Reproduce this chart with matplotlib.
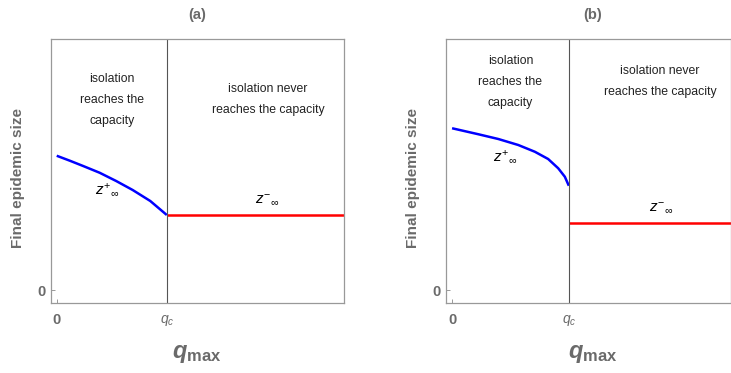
import matplotlib
matplotlib.use("Agg")
import matplotlib.pyplot as plt

plt.rcParams['font.family'] = ['Liberation Sans', 'DejaVu Sans']
plt.rcParams['mathtext.fontset'] = 'custom'
plt.rcParams['mathtext.rm'] = 'Liberation Sans'
plt.rcParams['mathtext.it'] = 'Liberation Sans:italic'
plt.rcParams['mathtext.bf'] = 'Liberation Sans:bold'
plt.rcParams['mathtext.sf'] = 'Liberation Sans:italic:bold'

# panel (a): final size above q_c (blue) and below (red)
qa_plus = [0, 0.12, 0.24, 0.39, 0.54, 0.69, 0.85, 1.0]
za_plus = [0.537, 0.517, 0.496, 0.469, 0.436, 0.40, 0.356, 0.30]
za_minus = 0.30

# panel (b)
qb_plus = [0, 0.225, 0.396, 0.567, 0.709, 0.823, 0.909, 0.966, 1.0]
zb_plus = [0.647, 0.623, 0.604, 0.58, 0.553, 0.524, 0.487, 0.453, 0.417]
zb_minus = 0.268

q_c = 1.0
GRAY = '#6a6a6a'

fig = plt.figure(figsize=(7.31, 3.73), dpi=100)


def panel(rect, xmax, q, zp, zm, txt_y, right_x, zp_pos, zm_pos, title, cx, ylab_x):
	ax = fig.add_axes(rect)
	ax.plot(q, zp, color='#0000ff', lw=1.8, solid_capstyle='butt')
	ax.plot([q_c, xmax], [zm, zm], color='#ff0000', lw=1.8, solid_capstyle='butt')
	ax.axvline(q_c, color='#555555', lw=0.8)
	ax.set_xlim(-0.052, xmax)
	ax.set_ylim(-0.052, 1.004)
	for s in ax.spines.values():
		s.set_color('#999999')
		s.set_linewidth(0.9)
	ax.set_xticks([0, q_c], ['0', '$q_c$'])
	ax.set_yticks([0], ['0'])
	ax.tick_params(direction='in', length=3, width=0.7, color='#999999',
				   labelcolor=GRAY)
	ax.tick_params(axis='x', pad=7)
	ax.tick_params(axis='y', pad=4)
	lx = ax.get_xticklabels()
	lx[0].set_fontsize(10.5)
	lx[0].set_fontweight('bold')
	lx[1].set_fontsize(10)
	for t in ax.get_yticklabels():
		t.set_fontsize(10.5)
		t.set_fontweight('bold')

	ax.text(0.5 * q_c, txt_y, 'isolation\nreaches the\ncapacity', ha='center',
			va='center', fontsize=8.8, linespacing=2.0, color='#222222')
	ax.text(right_x, txt_y, 'isolation never\nreaches the capacity',
			ha='center', va='center', fontsize=8.8, linespacing=2.0, color='#222222')
	ax.text(*zp_pos, r'$z^{+}{}_{\infty}$', ha='center', va='center', fontsize=11)
	ax.text(*zm_pos, r'$z^{-}{}_{\infty}$', ha='center', va='center', fontsize=11)

	fig.text(cx, 1 - 15 / 373, title, ha='center', va='center', fontsize=10.5,
			 fontweight='bold', color=GRAY)
	fig.text(cx, 1 - 354 / 373, r'$\mathsf{q}_{\mathbf{max}}$', ha='center',
			 va='center', fontsize=17, color=GRAY)
	fig.text(ylab_x, (373 - 178) / 373, 'Final epidemic size', rotation=90,
			 ha='center', va='center', fontsize=11, fontweight='bold', color=GRAY)
	return ax


panel([51 / 731, 70 / 373, 293 / 731, 264 / 373], 2.61, qa_plus, za_plus, za_minus,
	  0.76, 1.92, (0.46, 0.40), (1.91, 0.36), '(a)', 197 / 731, 18 / 731)
panel([446 / 731, 70 / 373, 284.5 / 731, 264 / 373], 2.385, qb_plus, zb_plus, zb_minus,
	  0.832, 1.78, (0.453, 0.532), (1.795, 0.328), '(b)', 593 / 731, 413 / 731)

fig.savefig('out.png', dpi=100)
